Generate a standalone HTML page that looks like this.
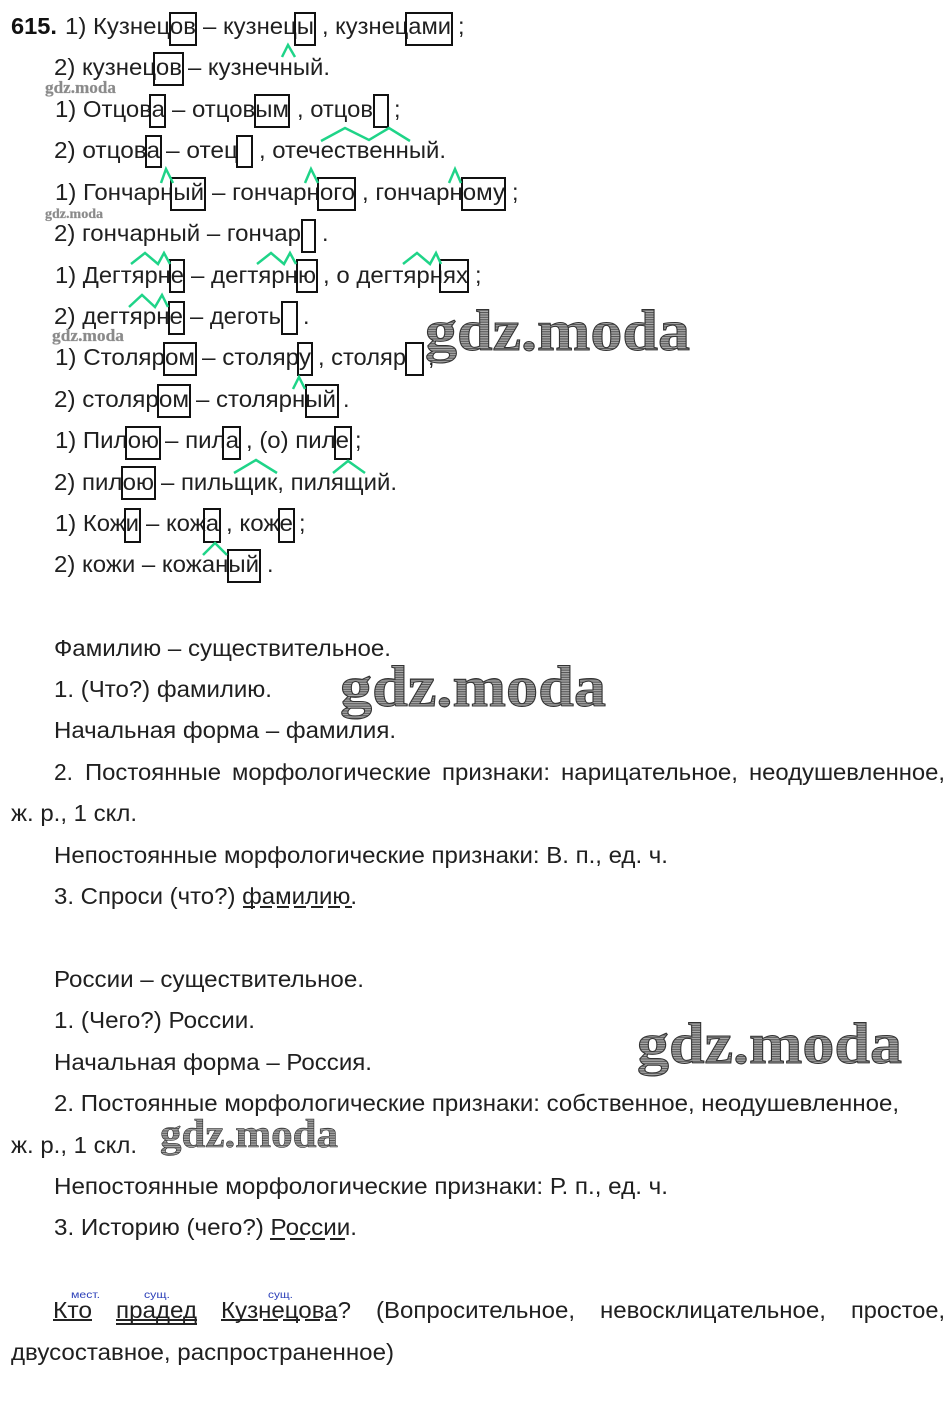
<!DOCTYPE html>
<html lang="ru"><head><meta charset="utf-8"><title>615</title>
<style>
html,body{margin:0;padding:0;background:#fff;width:950px;height:1418px;overflow:hidden}
svg{display:block}
text{font-family:"Liberation Sans","DejaVu Sans",sans-serif;font-size:23.4px;fill:#202020}
.b{font-weight:bold;fill:#111}
.m{font-size:10.5px;fill:#2b3fb8}
.w{font-family:"Liberation Serif",serif;font-weight:bold;fill:url(#h);stroke:#333;stroke-width:1}
.t{font-family:"Liberation Serif",serif;font-weight:bold;fill:#8a8a8a;stroke:#999;stroke-width:.3}
.x rect{fill:none;stroke:#111;stroke-width:2}
.g path{fill:none;stroke:#1fd488;stroke-width:2.5}
.u path{fill:none;stroke:#222;stroke-width:2}
</style></head><body>
<svg width="950" height="1418" viewBox="0 0 950 1418" xmlns="http://www.w3.org/2000/svg">
<defs><pattern id="h" width="4" height="2.4" patternUnits="userSpaceOnUse"><rect width="4" height="2.4" fill="#aaa"/><rect width="4" height="1.1" fill="#555"/></pattern></defs>

<g class="t-all">
<text class="b" x="11" y="34" textLength="46" lengthAdjust="spacingAndGlyphs">615.</text>
<text x="65" y="34" textLength="131" lengthAdjust="spacingAndGlyphs">1) Кузнецов</text>
<text x="203" y="34" textLength="111" lengthAdjust="spacingAndGlyphs">– кузнецы</text>
<text x="322" y="34" textLength="129" lengthAdjust="spacingAndGlyphs">, кузнецами</text>
<text x="458" y="34">;</text>

<text x="54" y="75" textLength="128" lengthAdjust="spacingAndGlyphs">2) кузнецов</text>
<text x="188" y="75" textLength="142" lengthAdjust="spacingAndGlyphs">– кузнечный.</text>

<text x="55" y="117" textLength="110" lengthAdjust="spacingAndGlyphs">1) Отцова</text>
<text x="172" y="117" textLength="117" lengthAdjust="spacingAndGlyphs">– отцовым</text>
<text x="297" y="117" textLength="76" lengthAdjust="spacingAndGlyphs">, отцов</text>
<text x="394" y="117">;</text>

<text x="54" y="158" textLength="106" lengthAdjust="spacingAndGlyphs">2) отцова</text>
<text x="166" y="158" textLength="72" lengthAdjust="spacingAndGlyphs">– отец</text>
<text x="259" y="158" textLength="187" lengthAdjust="spacingAndGlyphs">, отечественный.</text>

<text x="55" y="200" textLength="149" lengthAdjust="spacingAndGlyphs">1) Гончарный</text>
<text x="212" y="200" textLength="143" lengthAdjust="spacingAndGlyphs">– гончарного</text>
<text x="362" y="200" textLength="143" lengthAdjust="spacingAndGlyphs">, гончарному</text>
<text x="512" y="200">;</text>

<text x="54" y="241" textLength="247" lengthAdjust="spacingAndGlyphs">2) гончарный – гончар</text>
<text x="322" y="241">.</text>

<text x="55" y="283" textLength="129" lengthAdjust="spacingAndGlyphs">1) Дегтярне</text>
<text x="191" y="283" textLength="125" lengthAdjust="spacingAndGlyphs">– дегтярню</text>
<text x="323" y="283" textLength="145" lengthAdjust="spacingAndGlyphs">, о дегтярнях</text>
<text x="475" y="283">;</text>

<text x="54" y="324" textLength="129" lengthAdjust="spacingAndGlyphs">2) дегтярне</text>
<text x="190" y="324" textLength="91" lengthAdjust="spacingAndGlyphs">– деготь</text>
<text x="303" y="324">.</text>

<text x="55" y="365" textLength="140" lengthAdjust="spacingAndGlyphs">1) Столяром</text>
<text x="202" y="365" textLength="109" lengthAdjust="spacingAndGlyphs">– столяру</text>
<text x="318" y="365" textLength="88" lengthAdjust="spacingAndGlyphs">, столяр</text>
<text x="428" y="365">;</text>

<text x="54" y="407" textLength="135" lengthAdjust="spacingAndGlyphs">2) столяром</text>
<text x="196" y="407" textLength="140" lengthAdjust="spacingAndGlyphs">– столярный</text>
<text x="343" y="407">.</text>

<text x="55" y="448" textLength="104" lengthAdjust="spacingAndGlyphs">1) Пилою</text>
<text x="165" y="448" textLength="74" lengthAdjust="spacingAndGlyphs">– пила</text>
<text x="246" y="448" textLength="103" lengthAdjust="spacingAndGlyphs">, (о) пиле</text>
<text x="355" y="448">;</text>

<text x="54" y="490" textLength="100" lengthAdjust="spacingAndGlyphs">2) пилою</text>
<text x="161" y="490" textLength="236" lengthAdjust="spacingAndGlyphs">– пильщик, пилящий.</text>

<text x="55" y="531" textLength="84" lengthAdjust="spacingAndGlyphs">1) Кожи</text>
<text x="146" y="531" textLength="73" lengthAdjust="spacingAndGlyphs">– кожа</text>
<text x="226" y="531" textLength="67" lengthAdjust="spacingAndGlyphs">, коже</text>
<text x="299" y="531">;</text>

<text x="54" y="572" textLength="205" lengthAdjust="spacingAndGlyphs">2) кожи – кожаный</text>
<text x="267" y="572">.</text>

<text x="54" y="656" textLength="337" lengthAdjust="spacingAndGlyphs">Фамилию – существительное.</text>
<text x="54" y="697" textLength="218" lengthAdjust="spacingAndGlyphs">1. (Что?) фамилию.</text>
<text x="54" y="738" textLength="342" lengthAdjust="spacingAndGlyphs">Начальная форма – фамилия.</text>

<text x="54" y="780" textLength="19" lengthAdjust="spacingAndGlyphs">2.</text>
<text x="85" y="780" textLength="136" lengthAdjust="spacingAndGlyphs">Постоянные</text>
<text x="232" y="780" textLength="199" lengthAdjust="spacingAndGlyphs">морфологические</text>
<text x="442" y="780" textLength="108" lengthAdjust="spacingAndGlyphs">признаки:</text>
<text x="561" y="780" textLength="177" lengthAdjust="spacingAndGlyphs">нарицательное,</text>
<text x="749" y="780" textLength="196" lengthAdjust="spacingAndGlyphs">неодушевленное,</text>

<text x="11" y="821" textLength="126" lengthAdjust="spacingAndGlyphs">ж. р., 1 скл.</text>
<text x="54" y="863" textLength="614" lengthAdjust="spacingAndGlyphs">Непостоянные морфологические признаки: В. п., ед. ч.</text>
<text x="54" y="904" textLength="303" lengthAdjust="spacingAndGlyphs">3. Спроси (что?) фамилию.</text>

<text x="54" y="987" textLength="310" lengthAdjust="spacingAndGlyphs">России – существительное.</text>
<text x="54" y="1028" textLength="201" lengthAdjust="spacingAndGlyphs">1. (Чего?) России.</text>
<text x="54" y="1070" textLength="318" lengthAdjust="spacingAndGlyphs">Начальная форма – Россия.</text>
<text x="54" y="1111" textLength="845" lengthAdjust="spacingAndGlyphs">2. Постоянные морфологические признаки: собственное, неодушевленное,</text>
<text x="11" y="1153" textLength="126" lengthAdjust="spacingAndGlyphs">ж. р., 1 скл.</text>
<text x="54" y="1194" textLength="614" lengthAdjust="spacingAndGlyphs">Непостоянные морфологические признаки: Р. п., ед. ч.</text>
<text x="54" y="1235" textLength="303" lengthAdjust="spacingAndGlyphs">3. Историю (чего?) России.</text>

<text x="53" y="1318" textLength="39" lengthAdjust="spacingAndGlyphs">Кто</text>
<text x="116" y="1318" textLength="81" lengthAdjust="spacingAndGlyphs">прадед</text>
<text x="221" y="1318" textLength="130" lengthAdjust="spacingAndGlyphs">Кузнецова?</text>
<text x="376" y="1318" textLength="199" lengthAdjust="spacingAndGlyphs">(Вопросительное,</text>
<text x="600" y="1318" textLength="226" lengthAdjust="spacingAndGlyphs">невосклицательное,</text>
<text x="851" y="1318" textLength="94" lengthAdjust="spacingAndGlyphs">простое,</text>
<text x="11" y="1360" textLength="383" lengthAdjust="spacingAndGlyphs">двусоставное, распространенное)</text>

<text class="m" x="71" y="1298" textLength="29" lengthAdjust="spacingAndGlyphs">мест.</text>
<text class="m" x="144" y="1298" textLength="26" lengthAdjust="spacingAndGlyphs">сущ.</text>
<text class="m" x="268" y="1298" textLength="25" lengthAdjust="spacingAndGlyphs">сущ.</text>
</g>

<g class="x">
<rect x="170" y="13" width="26" height="32"/><rect x="295" y="13" width="20" height="32"/><rect x="406" y="13" width="46" height="32"/>
<rect x="154" y="53" width="29" height="32"/>
<rect x="150" y="95" width="15" height="32"/><rect x="255" y="95" width="34" height="32"/><rect x="374" y="95" width="14" height="32"/>
<rect x="146" y="136" width="15" height="31"/><rect x="237" y="136" width="15" height="31"/>
<rect x="171" y="178" width="34" height="32"/><rect x="318" y="178" width="37" height="32"/><rect x="462" y="178" width="43" height="32"/>
<rect x="302" y="220" width="13" height="32"/>
<rect x="170" y="260" width="14" height="32"/><rect x="297" y="260" width="20" height="32"/><rect x="440" y="260" width="28" height="32"/>
<rect x="169" y="302" width="15" height="32"/><rect x="282" y="302" width="15" height="32"/>
<rect x="164" y="343" width="32" height="32"/><rect x="298" y="343" width="14" height="32"/><rect x="406" y="343" width="17" height="32"/>
<rect x="158" y="385" width="32" height="32"/><rect x="306" y="385" width="32" height="32"/>
<rect x="126" y="427" width="34" height="32"/><rect x="223" y="427" width="17" height="32"/><rect x="335" y="427" width="16" height="32"/>
<rect x="122" y="467" width="33" height="32"/>
<rect x="125" y="509" width="15" height="33"/><rect x="204" y="509" width="16" height="33"/><rect x="279" y="509" width="15" height="33"/>
<rect x="228" y="550" width="32" height="32"/>
</g>

<g class="g">
<path d="M282 57L288 45L295 57"/>
<path d="M321 141L345 128L369 140L389 128L410 141"/>
<path d="M161 183L166 169L173 183"/><path d="M305 183L311 169L318 183"/><path d="M449 183L455 169L461 183"/>
<path d="M131 264L145 253L158 264L164 253L170 264"/>
<path d="M257 264L271 253L284 264L290 253L296 264"/>
<path d="M403 264L417 253L430 264L436 253L441 264"/>
<path d="M129 307L142 295L155 307L162 295L168 307"/>
<path d="M293 389L299 377L305 389"/>
<path d="M234 473L256 460L277 473"/>
<path d="M333 473L348 461L365 473"/>
<path d="M203 555L215 543L227 555"/>
</g>

<g class="u">
<path d="M243 907H352" stroke-dasharray="12 5"/>
<path d="M270 1239H350" stroke-dasharray="15 5"/>
<path d="M53 1320H92"/>
<path d="M116 1320H197M116 1324H197"/>
<path d="M221 1320H258"/>
<path d="M263 1320H278M283 1320H300M305 1320H320M325 1320H337"/>
</g>

<text class="t" x="45" y="93" style="font-size:17px" textLength="71" lengthAdjust="spacingAndGlyphs">gdz.moda</text>
<text class="t" x="45" y="218" style="font-size:14px" textLength="58" lengthAdjust="spacingAndGlyphs">gdz.moda</text>
<text class="t" x="52" y="341" style="font-size:17px" textLength="72" lengthAdjust="spacingAndGlyphs">gdz.moda</text>
<text class="w" x="425" y="350" style="font-size:58px" textLength="265" lengthAdjust="spacingAndGlyphs">gdz.moda</text>
<text class="w" x="340" y="706" style="font-size:58px" textLength="266" lengthAdjust="spacingAndGlyphs">gdz.moda</text>
<text class="w" x="637" y="1063" style="font-size:58px" textLength="265" lengthAdjust="spacingAndGlyphs">gdz.moda</text>
<text class="w" x="160" y="1147" style="font-size:40px;stroke-width:.6" textLength="178" lengthAdjust="spacingAndGlyphs">gdz.moda</text>
</svg>
</body></html>
